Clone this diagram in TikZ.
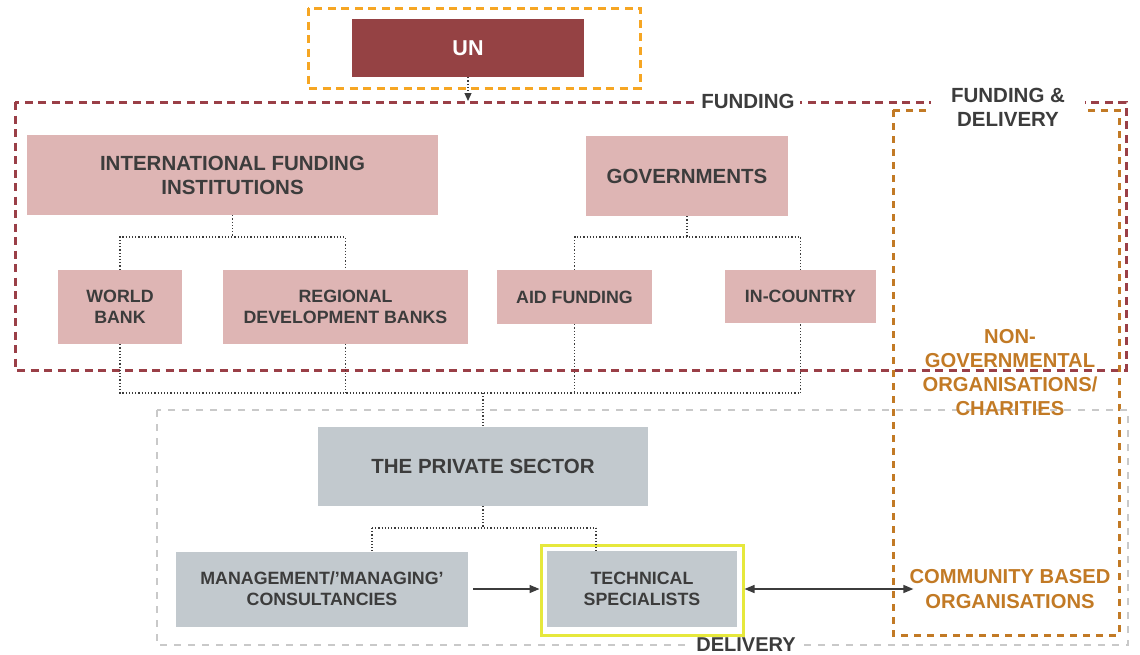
\documentclass[tikz,border=0pt]{standalone}
\usepackage{fontspec}
\setmainfont{Liberation Sans}
\usetikzlibrary{arrows.meta}

\definecolor{fundred}{HTML}{9A3F47}
\definecolor{unred}{HTML}{954244}
\definecolor{pinkfill}{HTML}{DEB5B4}
\definecolor{grayfill}{HTML}{C2C9CE}
\definecolor{amber}{HTML}{F6A623}
\definecolor{ngobrown}{HTML}{C27A25}
\definecolor{delivgray}{HTML}{C9C9C9}
\definecolor{txt}{HTML}{3C3C3C}
\definecolor{hiyellow}{HTML}{E6E83C}

\begin{document}
\begin{tikzpicture}[x=1pt,y=-1pt,
  box/.style={rectangle, inner sep=0pt, align=center, text=txt,
    font=\bfseries\fontsize{17.8}{21}\selectfont},
  bigtext/.style={font=\bfseries\fontsize{20.5}{24}\selectfont},
  pinkbox/.style={box, fill=pinkfill},
  graybox/.style={box, fill=grayfill},
  tree/.style={draw=txt, line width=1.2pt, dotted},
  groupline/.style={line width=3pt, dash pattern=on 8pt off 5.5pt},
  labelmask/.style={fill=white, text=txt, inner ysep=2pt, align=center,
    font=\bfseries\fontsize{20.5}{24}\selectfont},
  orgtext/.style={text=ngobrown, align=center, inner sep=0pt,
    font=\bfseries\fontsize{20.2}{24.3}\selectfont},
  flow/.style={draw=txt, line width=1.4pt, >={Triangle[length=10pt,width=8pt]}}
]
\useasboundingbox (0,0) rectangle (1140,654);

% group frames
\draw[groupline, draw=amber] (308,8) rectangle (640,88);
\draw[groupline, draw=fundred] (15,102) rectangle (1126,370);
\draw[groupline, draw=ngobrown, dash pattern=on 7pt off 6pt] (893,110) rectangle (1119,635);
\draw[draw=delivgray, line width=2.5pt, dash pattern=on 7pt off 7pt] (157,410) rectangle (1128,645);

% frame labels, set into the frame lines
\node[labelmask, inner xsep=5pt] (lfund) at (748,101) {FUNDING};
\node[labelmask, inner xsep=20pt, inner ysep=4pt] (lfd) at (1008,107) {FUNDING \&\\DELIVERY};
\node[labelmask, inner xsep=8pt, inner ysep=1pt, font=\bfseries\fontsize{20}{24}\selectfont] (ldel) at (746,644.3) {DELIVERY};

% UN
\node[box, fill=unred, text=white, minimum width=232pt, minimum height=58pt,
  font=\bfseries\fontsize{21.5}{24}\selectfont] (un) at (468,48) {UN};

% funding bodies
\node[pinkbox, bigtext, minimum width=411pt, minimum height=80pt] (ifi) at (232.5,175)
  {INTERNATIONAL FUNDING\\INSTITUTIONS};
\node[pinkbox, bigtext, minimum width=202pt, minimum height=80pt] (gov) at (687,176) {GOVERNMENTS};
\node[pinkbox, minimum width=124pt, minimum height=74pt] (wb) at (120,307) {WORLD\\BANK};
\node[pinkbox, minimum width=245pt, minimum height=74pt] (rdb) at (345.5,307) {REGIONAL\\DEVELOPMENT BANKS};
\node[pinkbox, minimum width=155pt, minimum height=54pt] (aid) at (574.5,297) {AID FUNDING};
\node[pinkbox, minimum width=151pt, minimum height=53pt] (inc) at (800.5,296.5) {IN-COUNTRY};

% delivery bodies
\node[graybox, bigtext, minimum width=330pt, minimum height=79pt] (ps) at (483,466.5) {THE PRIVATE SECTOR};
\node[graybox, minimum width=292pt, minimum height=75pt] (mc) at (322,589)
  {MANAGEMENT/'MANAGING'\\CONSULTANCIES};
\node[draw=hiyellow, line width=3pt, minimum width=202pt, minimum height=90pt, inner sep=0pt] (tsy) at (642,590) {};
\node[graybox, minimum width=190pt, minimum height=76pt] (ts) at (642,589) {TECHNICAL\\SPECIALISTS};

% NGO and community groups
\node[orgtext] (ngo) at (1010,372.5) {NON-\\GOVERNMENTAL\\ORGANISATIONS/\\CHARITIES};
\node[orgtext] (cbo) at (1010,589) {COMMUNITY BASED\\ORGANISATIONS};

% tree connectors
\coordinate (jf) at (232.5,237);
\coordinate (jg) at (687,237);
\coordinate (jb) at (483,393);
\coordinate (jp) at (483,528);
\coordinate (pl) at (372,528);
\coordinate (pr) at (596,528);

\draw[tree] (ifi.south) -- (jf);
\draw[tree] (wb.north) |- (jf) -| (rdb.north);
\draw[tree] (gov.south) -- (jg);
\draw[tree] (aid.north) |- (jg) -| (inc.north);
\draw[tree] (wb.south) |- (jb) -| (inc.south);
\draw[tree] (rdb.south) -- (rdb.south |- jb);
\draw[tree] (aid.south) -- (aid.south |- jb);
\draw[tree] (jb) -- (ps.north);
\draw[tree] (ps.south) -- (jp);
\draw[tree] (pl) -- (pr);
\draw[tree] (pl) -- (pl |- mc.north);
\draw[tree] (pr) -- (pr |- ts.north);

% UN feeds funding
\coordinate (ftop) at (468,101);
\draw[tree, -{Triangle[length=8pt,width=7pt]}] (un.south) -- (ftop);

% delivery flows
\draw[flow, ->] ([xshift=5pt]mc.east) -- (mc.east -| tsy.west);
\draw[flow, <->] (ts.east -| tsy.east) -- ([xshift=4pt]cbo.west);
\end{tikzpicture}
\end{document}
